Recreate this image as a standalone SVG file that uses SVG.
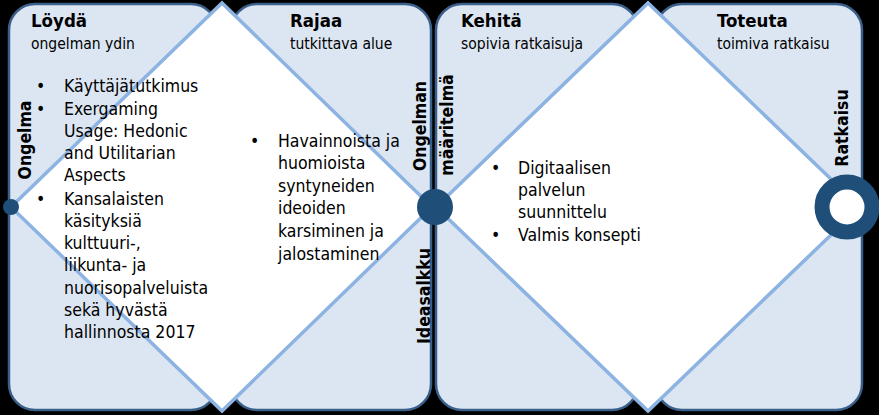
<svg xmlns="http://www.w3.org/2000/svg" width="879" height="415" viewBox="0 0 879 415">
<style>
.box{fill:#dce6f2;stroke:#3a5f8a;stroke-width:2.5}
.dia{fill:#fff;stroke:#8db3e2;stroke-width:3.5}
text{font-family:"DejaVu Sans Condensed","DejaVu Sans",sans-serif;fill:#000}
.t{font-size:18.5px;font-weight:bold}
.s{font-size:15.5px}
.b{font-size:17.5px}
.v{font-size:17.5px;font-weight:bold}
</style>
<rect width="879" height="415" fill="#000"/>
<g id="box1"><rect class="box" x="9" y="4" width="208" height="406" rx="26"/></g>
<g id="box2"><rect class="box" x="231" y="4" width="200" height="406" rx="26"/></g>
<g id="box3"><rect class="box" x="436" y="4" width="202" height="406" rx="26"/></g>
<g id="box4"><rect class="box" x="656" y="4" width="206" height="406" rx="26"/></g>
<g id="diamond1"><polygon class="dia" points="11,207 222,3 432,207 222,411"/></g>
<g id="diamond2"><polygon class="dia" points="436,207 648,3 860,207 648,411"/></g>
<g id="connectors"></g>
<g id="start"><circle cx="11" cy="207" r="8" fill="#1f4e79"/></g>
<g id="mid"><circle cx="435" cy="207" r="18" fill="#1f4e79"/></g>
<g id="end"><circle cx="847" cy="207" r="25" fill="#fff" stroke="#1f4e79" stroke-width="15"/></g>
<g id="labels">
<text class="t" x="31" y="27">Löydä</text>
<text class="s" x="31" y="49">ongelman ydin</text>
<text class="t" x="290" y="27">Rajaa</text>
<text class="s" x="290" y="49">tutkittava alue</text>
<text class="t" x="461" y="27">Kehitä</text>
<text class="s" x="461" y="49">sopivia ratkaisuja</text>
<text class="t" x="717" y="27">Toteuta</text>
<text class="s" x="717" y="49">toimiva ratkaisu</text>
<g class="b">
<text x="36" y="92">•</text><text x="64" y="92">Käyttäjätutkimus</text>
<text x="36" y="115">•</text><text x="64" y="115">Exergaming</text>
<text x="64" y="137">Usage: Hedonic</text>
<text x="64" y="159">and Utilitarian</text>
<text x="64" y="181">Aspects</text>
<text x="36" y="205">•</text><text x="64" y="205">Kansalaisten</text>
<text x="64" y="227">käsityksiä</text>
<text x="64" y="249">kulttuuri-,</text>
<text x="64" y="271">liikunta- ja</text>
<text x="64" y="294">nuorisopalveluista</text>
<text x="64" y="316">sekä hyvästä</text>
<text x="64" y="338">hallinnosta 2017</text>
<text x="250" y="147">•</text><text x="278" y="147">Havainnoista ja</text>
<text x="278" y="169">huomioista</text>
<text x="278" y="192">syntyneiden</text>
<text x="278" y="214">ideoiden</text>
<text x="278" y="237">karsiminen ja</text>
<text x="278" y="260">jalostaminen</text>
<text x="491" y="174">•</text><text x="518" y="174">Digitaalisen</text>
<text x="518" y="196">palvelun</text>
<text x="518" y="218">suunnittelu</text>
<text x="491" y="241">•</text><text x="518" y="241">Valmis konsepti</text>
</g>
<text class="v" transform="translate(31,140) rotate(-90)" text-anchor="middle">Ongelma</text>
<text class="v" transform="translate(426,126) rotate(-90)" text-anchor="middle">Ongelman</text>
<text class="v" transform="translate(453,125) rotate(-90)" text-anchor="middle">määritelmä</text>
<text class="v" transform="translate(430,296) rotate(-90)" text-anchor="middle">Ideasalkku</text>
<text class="v" transform="translate(848,128) rotate(-90)" text-anchor="middle">Ratkaisu</text>
</g>
</svg>
